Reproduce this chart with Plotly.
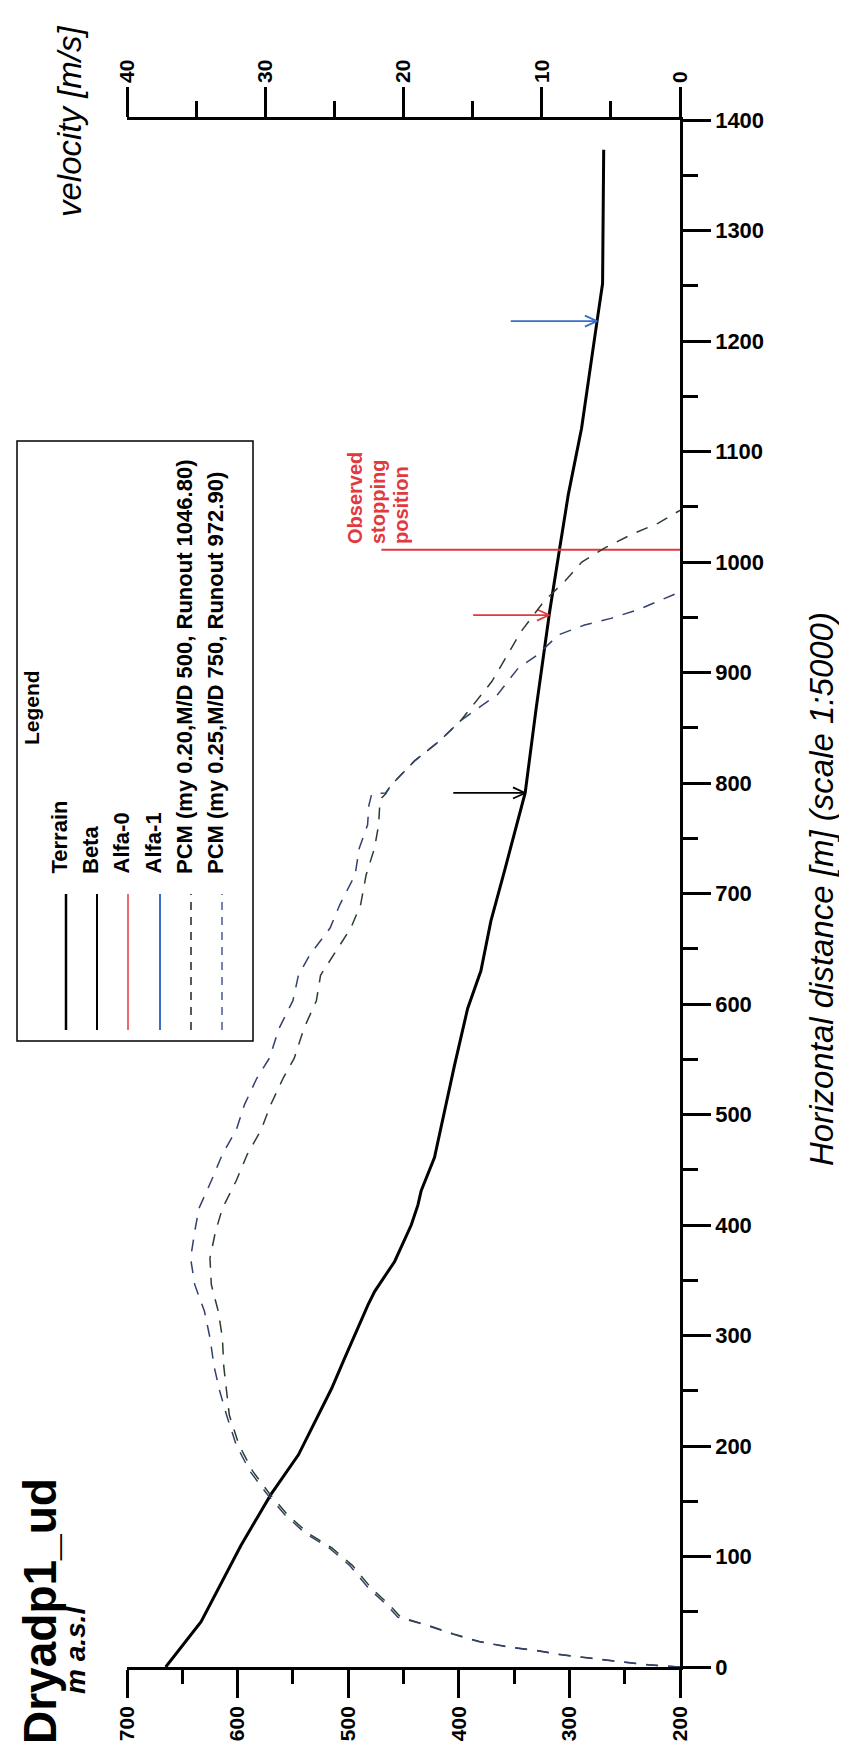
import numpy as np
import plotly.graph_objects as go

# ---------------- data ----------------
terrain_dist = [0, 41, 110, 156, 192, 252, 280, 328, 340, 367, 400, 418, 431, 461, 544, 596, 630,
                675, 723, 791, 868, 954, 1011, 1061, 1121, 1200, 1218, 1252, 1373]
terrain_elev = [665, 633, 597, 570, 545, 515, 503, 482, 476, 458, 443, 437, 434, 422, 404, 392, 380,
                371, 358, 340, 330, 318, 309, 301, 289, 278, 275, 270, 269]

pcm1_dist = [0, 2, 5, 8, 11, 15, 18, 23, 30, 38, 45, 56, 71, 92, 108, 121, 138, 157, 177, 201, 228,
             250, 272, 298, 322, 346, 370, 394, 415, 440, 464, 486, 509, 533, 551, 578, 603, 626, 644,
             669, 690, 717, 741, 762, 785, 790, 798, 820, 838, 856, 870, 892, 937, 965, 983, 1000,
             1013, 1025, 1035, 1044, 1046.8]
pcm1_vel = [0, 2.3, 4.4, 6.5, 8.5, 10.4, 12.3, 14.5, 16.4, 18.3, 20.2, 21.0, 22.3, 23.7, 25.2, 26.9,
            28.4, 29.7, 30.9, 31.9, 32.6, 32.8, 33.0, 33.1, 33.4, 33.9, 34.0, 33.6, 33.1, 32.1, 31.3,
            30.3, 29.6, 28.7, 27.9, 27.2, 26.3, 26.0, 25.1, 23.8, 23.1, 22.7, 22.1, 21.8, 21.7, 21.3,
            20.9, 19.2, 17.4, 15.9, 15.0, 13.6, 11.5, 9.8, 8.3, 7.1, 5.4, 3.5, 1.6, 0.4, 0]

pcm2_dist = [0, 2, 5, 8, 11, 15, 18, 23, 30, 38, 45, 56, 71, 92, 108, 121, 138, 157, 177, 201, 228,
             250, 272, 298, 322, 346, 370, 394, 415, 440, 464, 486, 509, 533, 551, 578, 603, 626, 644,
             669, 690, 717, 741, 762, 780, 790, 791, 798, 820, 838, 856, 866, 880, 904, 916, 934, 943,
             949, 957, 966, 970, 972.9]
pcm2_vel = [0, 2.4, 4.5, 6.6, 8.6, 10.5, 12.4, 14.6, 16.5, 18.4, 20.4, 21.2, 22.5, 23.9, 25.4, 27.1,
            28.6, 29.9, 31.1, 32.1, 32.8, 33.3, 33.7, 34.0, 34.4, 35.1, 35.4, 35.1, 34.8, 33.9, 33.1,
            32.1, 31.5, 30.6, 29.7, 29.0, 28.0, 27.6, 26.8, 25.3, 24.6, 23.5, 23.2, 22.6, 22.5, 22.3,
            21.3, 20.9, 19.2, 17.4, 15.9, 14.8, 13.2, 11.7, 10.3, 8.8, 6.9, 5.0, 3.0, 1.3, 0.6, 0]

arrow_names = ["Beta", "Alfa-0", "Alfa-1"]
arrow_dist = [791, 952, 1218]
arrow_tail_elev = [405, 387, 353]
observed_dist = 1011
observed_elev = [470, 200]
observed_lines = ["Observed", "stopping", "position"]

elev_ticks = [200, 300, 400, 500, 600, 700]
dist_ticks = list(range(0, 1500, 100))
vel_ticks = [0, 10, 20, 30, 40]

legend_labels = ["Terrain", "Beta", "Alfa-0", "Alfa-1",
                 "PCM (my 0.20,M/D 500, Runout 1046.80)",
                 "PCM (my 0.25,M/D 750, Runout 972.90)"]

# ---------------- styles ----------------
W, H = 847, 1744
L, R, T, B = 119, 175, 112, 85
PW, PH = W - L - R, H - T - B
FONT = "Liberation Sans, Arial, sans-serif"
RED = "#e0393e"
BLUE = "#3b6cc6"
PCM1_COL = "#2a3f2a"
PCM2_COL = "#33406e"
legend_colors = ["black", "black", RED, BLUE, "#222222", "#4a5a90"]
legend_dash = ["solid", "solid", "solid", "solid", "dash", "dash"]
legend_width = [2.5, 2, 1.5, 2, 1.5, 1.5]
ROT_OFF = 7  # visual offset of rotated text boxes


def px(x):
    return (x - L) / PW


def py(y):
    return (H - B - y) / PH


fig = go.Figure()

fig.add_trace(go.Scatter(x=terrain_elev, y=terrain_dist, mode="lines",
                         line=dict(color="black", width=3), xaxis="x", yaxis="y"))

fig.add_trace(go.Scatter(x=pcm1_vel, y=pcm1_dist, mode="lines",
                         line=dict(color=PCM1_COL, width=1.5, dash="12px,10px"),
                         xaxis="x2", yaxis="y"))
fig.add_trace(go.Scatter(x=pcm2_vel, y=pcm2_dist, mode="lines",
                         line=dict(color=PCM2_COL, width=1.5, dash="12px,10px"),
                         xaxis="x2", yaxis="y"))

arrow_colors = ["black", RED, BLUE]
wing_e, wing_d = 11, 5
for d, tail, col in zip(arrow_dist, arrow_tail_elev, arrow_colors):
    head = float(np.interp(d, terrain_dist, terrain_elev))
    xs = [tail, head, None, head + wing_e, head, head + wing_e]
    ys = [d, d, None, d + wing_d, d, d - wing_d]
    fig.add_trace(go.Scatter(x=xs, y=ys, mode="lines", line=dict(color=col, width=1.8),
                             xaxis="x", yaxis="y"))

fig.add_trace(go.Scatter(x=observed_elev, y=[observed_dist, observed_dist], mode="lines",
                         line=dict(color=RED, width=2), xaxis="x", yaxis="y"))


def rot(text, x, y, size, yanchor="middle", color="black"):
    return dict(text=text, x=px(x - ROT_OFF), y=py(y), xref="paper", yref="paper",
                xanchor="center", yanchor=yanchor, textangle=-90, showarrow=False,
                font=dict(family=FONT, size=size, color=color))


ann = []
ann.append(rot("<b>Dryadp1_ud</b>", 39, 1738, 46, "bottom"))
ann.append(rot("<b><i>m a.s.l</i></b>", 74, 1688, 28, "bottom"))
ann.append(rot("<i>velocity [m/s]</i>", 68, 113, 33))
ann.append(rot("<i>Horizontal distance [m] (scale 1:5000)</i>", 820, 881, 33))
for i, t in enumerate(observed_lines):
    ann.append(rot("<b>" + t + "</b>", 354 + 23 * i, 538, 20, "bottom", RED))

shapes = [dict(type="rect", xref="paper", yref="paper", x0=px(9), x1=px(245), y0=py(1033),
               y1=py(433), line=dict(color="black", width=1.5), fillcolor="white")]
ann.append(rot("<b>Legend</b>", 30, 700, 21))
leg_x = [58, 89, 120, 152, 183, 214]
for lx, lab, col, dsh, lw in zip(leg_x, legend_labels, legend_colors, legend_dash, legend_width):
    shapes.append(dict(type="line", xref="paper", yref="paper", x0=px(lx), x1=px(lx),
                       y0=py(1022), y1=py(886),
                       line=dict(color=col, width=lw, dash="8px,7px" if dsh == "dash" else "solid")))
    ann.append(rot("<b>" + lab + "</b>", lx, 868, 22, "bottom"))

axis_common = dict(showgrid=False, zeroline=False, showline=True, linecolor="black",
                   linewidth=2.5, ticks="outside", tickcolor="black", tickwidth=2.5)

fig.update_layout(
    width=W, height=H, margin=dict(l=L, r=R, t=T, b=B, pad=0),
    paper_bgcolor="white", plot_bgcolor="white", showlegend=False,
    font=dict(family=FONT, color="black"),
    xaxis=dict(range=[700, 200], side="bottom", anchor="y", tickmode="array",
               tickvals=elev_ticks, ticktext=[str(v) for v in elev_ticks], ticklen=28,
               tickangle=-90, tickfont=dict(size=21, family=FONT, weight="bold"),
               minor=dict(tickmode="array", tickvals=[250, 350, 450, 550, 650], ticklen=14,
                          tickwidth=2.5, tickcolor="black", ticks="outside"),
               **axis_common),
    xaxis2=dict(range=[40, 0], side="top", overlaying="x", anchor="y", tickmode="array",
                tickvals=vel_ticks, ticktext=[str(v) for v in vel_ticks], ticklen=30,
                tickangle=-90, tickfont=dict(size=21, family=FONT, weight="bold"),
                minor=dict(tickmode="array", tickvals=[5, 15, 25, 35], ticklen=16,
                           tickwidth=2.5, tickcolor="black", ticks="outside"),
                **axis_common),
    yaxis=dict(range=[0, 1400], side="right", anchor="x", tickmode="array",
               tickvals=dist_ticks, ticktext=[str(v) for v in dist_ticks], ticklen=28,
               tickfont=dict(size=22, family=FONT, weight="bold"),
               minor=dict(tickmode="array", tickvals=list(range(50, 1400, 100)), ticklen=15,
                          tickwidth=2.5, tickcolor="black", ticks="outside"),
               **axis_common),
    annotations=ann, shapes=shapes,
)

fig.write_html("out.html")
